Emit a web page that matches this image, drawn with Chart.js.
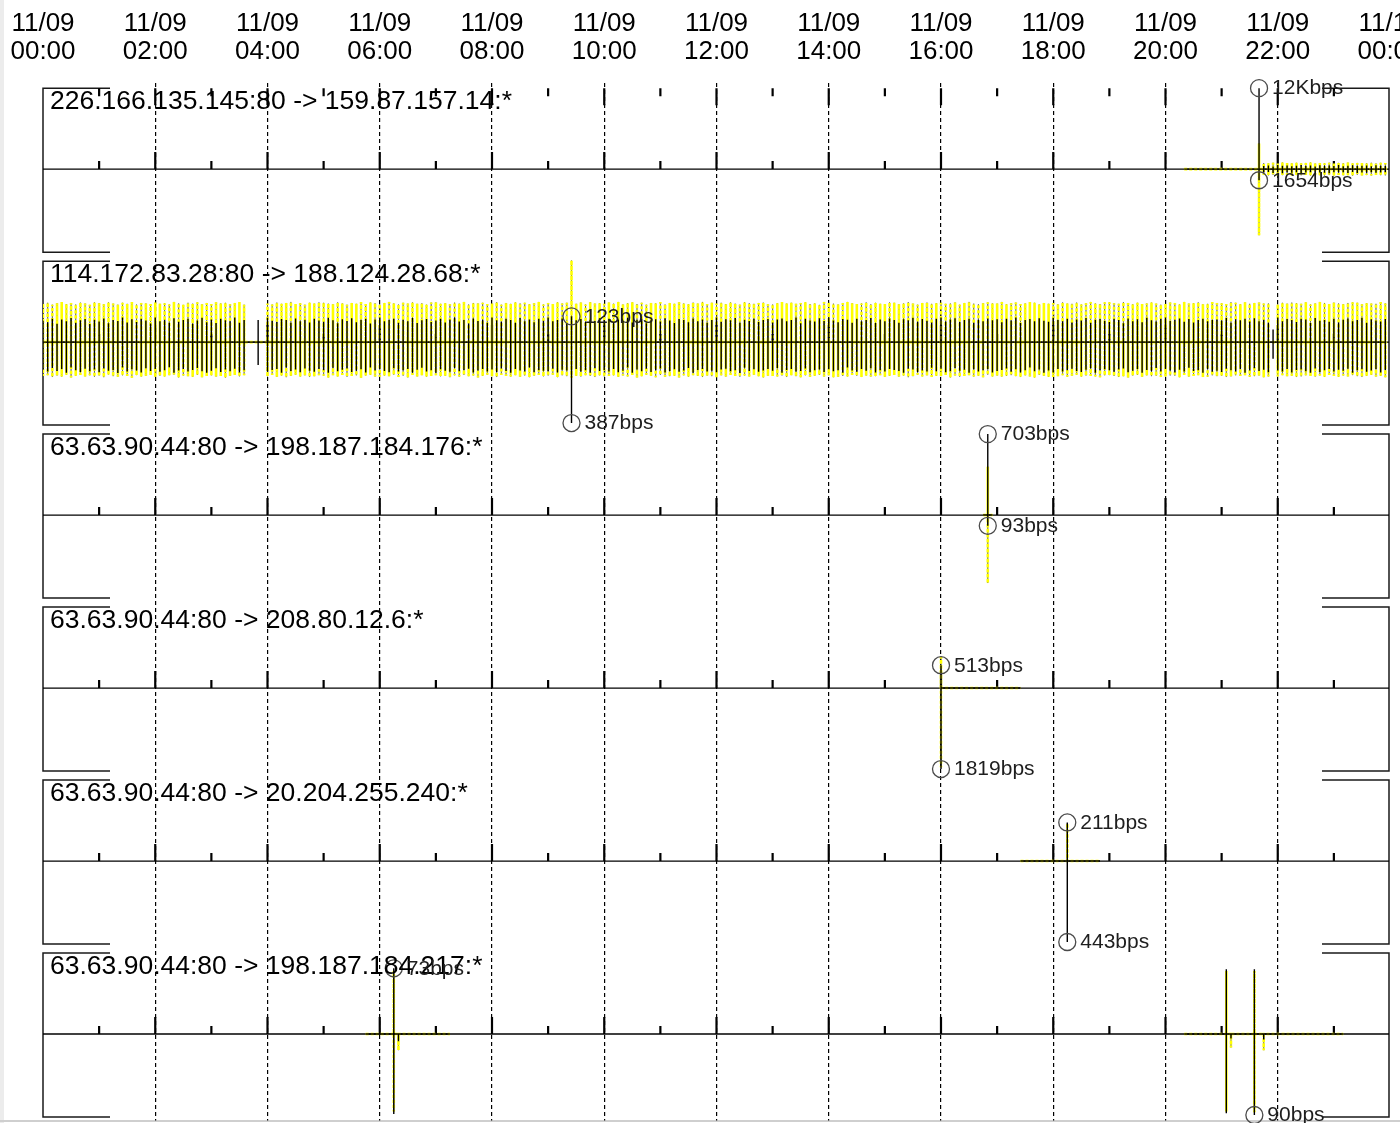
<!DOCTYPE html>
<html>
<head>
<meta charset="utf-8">
<title>Flow rates 11/09</title>
<script src="https://cdn.jsdelivr.net/npm/chart.js"></script>
<style>
  html, body { margin: 0; padding: 0; background: #fff; overflow: hidden; width: 1400px; height: 1123px; }
  #wrap { position: absolute; left: 0; top: 0; width: 1440px; height: 1123px; }
</style>
</head>
<body>
<div id="wrap"><canvas id="c" width="1440" height="1123"></canvas></div>
<script>
// ---- time axis ----
const SLOT_MIN = 5;                       // sampling interval, minutes
const tickDates = ['11/09','11/09','11/09','11/09','11/09','11/09','11/09','11/09','11/09','11/09','11/09','11/09','11/10'];
const tickTimes = ['00:00','02:00','04:00','06:00','08:00','10:00','12:00','14:00','16:00','18:00','20:00','22:00','00:00'];

// ---- flows (one panel each) ----
const flowLabels = [
  '226.166.135.145:80 -> 159.87.157.14:*',
  '114.172.83.28:80 -> 188.124.28.68:*',
  '63.63.90.44:80 -> 198.187.184.176:*',
  '63.63.90.44:80 -> 208.80.12.6:*',
  '63.63.90.44:80 -> 20.204.255.240:*',
  '63.63.90.44:80 -> 198.187.184.217:*'
];

// flow 1: 5-minute samples from 20:20 (bps; up = forward, down = reverse)
const f1Start = '20:20';
const f1Up = [0,0,0,0,0,0,0,0,0,0,0,0,0,0,0,0, 12000,
  450,520,380,600,480,550,420,500,610,470,530,390,560,480,520,450,600,430,510,570,460,490,540,420,580,500,470];
const f1Down = [0,0,0,0,0,0,0,0,0,0,0,0,0,0,0,0, 1654,
  500,430,560,470,620,480,540,450,590,510,460,570,490,530,610,450,520,480,560,440,590,500,530,470,550,510,480];
const f1BurstUp = [0,0,0,0,0,0,0,0,0,0,0,0,0,0,0,0, 3800,
  900,850,950,820,980,900,870,940,860,920,990,840,910,880,960,830,930,890,970,850,920,900,880,950,860,940,900];
const f1BurstDown = [0,0,0,0,0,0,0,0,0,0,0,0,0,0,0,0, 9800,
  880,940,860,990,900,850,960,890,930,870,950,820,910,970,880,940,860,920,900,980,850,930,890,960,870,910,940];

// flow 2: whole day, 5-minute samples from 00:00 (one row per hour)
const f2Start = '00:00';
const f2Up = [
  102,95,111,88,108,99,115,92,104,110,86,107,
  98,113,90,105,101,117,94,109,96,112,103,89,
  118,100,107,93,114,97,106,111,88,103,116,95,
  108,91,112,104,99,117,93,106,0,0,105,0,
  116,102,96,110,105,92,113,100,107,94,111,103,
  97,116,104,90,109,101,114,95,106,112,89,108,
  117,99,105,112,93,107,100,115,91,104,110,96,
  103,111,94,108,117,98,105,89,113,101,107,92,
  118,104,97,112,106,93,115,100,108,95,111,102,
  117,99,106,113,91,123,104,110,96,107,101,114,
  105,112,93,108,100,116,94,107,111,90,104,109,
  98,114,103,91,110,106,95,113,100,108,92,105,
  118,97,109,104,115,92,107,101,112,96,106,110,
  94,108,113,99,105,117,90,111,103,98,114,101,
  116,103,95,110,107,93,112,99,106,115,91,108,
  100,113,106,92,109,104,116,97,110,102,94,111,
  118,98,108,114,96,105,111,93,107,100,113,104,
  109,95,112,103,117,91,106,110,99,114,102,97,
  116,106,99,111,94,108,103,115,92,107,110,101,
  96,112,105,90,113,100,109,95,116,104,98,111,
  117,101,107,113,97,110,94,106,112,99,105,108,
  103,115,92,109,104,111,98,114,100,107,93,60,
  118,99,110,105,96,112,108,91,115,102,106,97,
  111,94,107,113,100,105,116,92,109,103,98,110
];
const f2Down = [
  132,141,124,138,129,146,121,135,143,127,139,131,
  144,126,137,133,148,122,140,130,136,145,125,138,
  129,142,134,120,147,136,128,141,133,124,139,146,
  137,125,143,131,139,127,145,134,0,0,110,0,
  140,133,128,146,122,138,131,144,126,137,142,129,
  135,147,123,139,132,126,143,137,130,145,121,136,
  128,138,144,125,141,134,129,147,132,123,140,135,
  146,130,137,142,124,139,133,127,145,136,128,141,
  131,143,126,138,147,129,136,140,122,144,134,137,
  139,127,145,132,136,387,128,141,134,146,125,138,
  133,140,129,144,137,122,146,131,139,127,143,135,
  126,145,138,130,142,136,124,147,133,129,140,137,
  144,131,127,139,135,148,123,138,130,142,136,128,
  137,124,146,133,129,141,138,126,144,135,131,143,
  130,139,135,147,122,136,142,129,137,125,145,134,
  141,128,133,138,146,127,131,143,136,140,123,139,
  127,144,139,124,137,132,147,130,141,134,128,145,
  138,133,126,142,130,145,135,121,139,131,146,136,
  145,129,140,135,127,138,143,132,125,147,134,130,
  134,142,131,126,144,137,128,146,133,139,124,141,
  129,136,145,132,140,123,138,134,147,128,142,137,
  143,127,134,141,129,146,136,125,138,132,144,80,
  136,140,128,145,133,131,139,147,126,143,135,129,
  140,132,137,127,146,134,130,142,136,128,145,133
];
const f2BurstUp = [
  184,188,179,186,191,182,187,180,189,185,178,190,
  186,181,190,184,179,188,183,191,180,187,185,182,
  189,183,186,180,192,185,178,188,184,190,181,187,
  182,190,185,188,181,187,191,179,0,0,0,0,
  185,180,189,183,187,192,182,186,179,188,184,190,
  188,184,181,190,185,179,187,183,191,182,189,186,
  181,187,192,185,180,188,184,190,183,186,179,189,
  190,183,186,181,189,184,192,180,187,185,188,182,
  184,191,179,187,183,190,185,188,181,186,192,180,
  187,182,190,185,188,390,183,189,180,191,184,186,
  183,189,184,192,180,186,190,182,188,179,187,185,
  191,180,187,183,190,185,181,189,184,192,182,188,
  185,188,182,190,184,179,191,186,183,187,189,181,
  180,186,191,184,188,183,187,190,182,185,178,192,
  189,184,180,187,192,186,182,185,190,181,188,183,
  182,190,188,181,185,191,184,179,187,189,183,186,
  188,183,185,190,179,187,192,184,181,186,190,185,
  184,192,181,186,189,182,185,191,188,180,187,183,
  187,181,190,184,183,189,180,186,192,185,182,190,
  190,186,183,191,187,181,188,182,185,189,184,179,
  183,189,187,180,192,184,186,190,181,183,191,187,
  186,182,191,188,181,190,183,187,189,184,185,0,
  181,188,184,189,186,183,190,180,185,192,187,182,
  189,185,182,187,190,188,181,186,184,183,191,185
];
const f2BurstDown = [
  162,158,167,160,165,156,169,161,157,164,159,166,
  160,168,155,163,166,159,162,170,158,165,161,157,
  167,161,164,158,156,169,160,163,166,157,168,162,
  159,165,162,170,161,157,164,158,0,0,0,0,
  164,157,166,160,168,162,156,165,159,167,163,158,
  161,169,158,164,157,166,162,159,170,160,156,165,
  166,160,163,156,167,161,169,157,164,158,165,162,
  158,164,161,168,159,165,157,163,160,169,162,156,
  163,167,157,162,165,158,166,160,168,161,157,164,
  160,156,168,159,163,170,161,165,158,162,167,159,
  165,162,159,166,160,164,157,169,163,156,161,168,
  157,166,163,161,169,159,165,158,162,167,160,163,
  168,159,165,157,162,166,160,164,156,163,169,161,
  162,164,160,167,158,163,168,159,166,161,157,165,
  159,168,166,162,164,157,161,167,160,165,163,158,
  166,161,157,165,160,168,163,156,164,159,167,162,
  163,157,169,160,166,162,158,165,161,168,156,164,
  160,165,162,158,163,167,159,164,169,157,162,166,
  167,163,158,166,161,156,165,160,162,164,168,159,
  158,162,167,163,169,160,157,166,159,163,161,167,
  164,160,161,168,157,165,162,158,167,166,159,163,
  161,167,164,159,162,158,166,163,160,168,164,0,
  165,158,163,161,167,164,159,162,165,160,166,157,
  162,166,160,164,158,163,167,161,157,165,162,168
];

// flow 3: burst around 16:50
const f3Start = '16:45';
const f3Up = [0, 703, 0];
const f3Down = [0, 93, 0];
const f3BurstUp = [0, 420, 0];
const f3BurstDown = [0, 590, 0];

// flow 4: 16:00 - 17:25
const f4Start = '16:00';
const f4Up = [513,0,0,0,0,0,0,0,0,0,0,0,0,0,0,0,0,0];
const f4Down = [1819,0,0,0,0,0,0,0,0,0,0,0,0,0,0,0,0,0];
const f4BurstUp = [700,0,0,0,0,0,0,0,0,0,0,0,0,0,0,0,0,0];
const f4BurstDown = [1780,0,0,0,0,0,0,0,0,0,0,0,0,0,0,0,0,0];

// flow 5: 17:25 - 18:50
const f5Start = '17:25';
const f5Up = [0,0,0,0,0,0,0,0,0,0,211,0,0,0,0,0,0,0];
const f5Down = [0,0,0,0,0,0,0,0,0,0,443,0,0,0,0,0,0,0];
const f5BurstUp = [0,0,0,0,0,0,0,0,0,0,205,0,0,0,0,0,0,0];
const f5BurstDown = [0,0,0,0,0,0,0,0,0,0,0,0,0,0,0,0,0,0];

// flow 6: two sessions, 05:45 - 07:15 and 20:20 - 23:10
const f6aStart = '05:45';
const f6aUp = [0,0,0,0,0,0,73,0,0,0,0,0,0,0,0,0,0,0,0];
const f6aDown = [0,0,0,0,0,0,89,8,0,0,0,0,0,0,0,0,0,0,0];
const f6aBurstUp = [0,0,0,0,0,0,70,0,0,0,0,0,0,0,0,0,0,0,0];
const f6aBurstDown = [0,0,0,0,0,0,86,18,0,0,0,0,0,0,0,0,0,0,0];
const f6bStart = '20:20';
const f6bUp = [0,0,0,0,0,0,0,0,0,72,0,0,0,0,0,72,0,0,0,0,0,0,0,0,0,0,0,0,0,0,0,0,0,0,0];
const f6bDown = [0,0,0,0,0,0,0,0,0,88,5,0,0,0,0,90,0,6,0,0,0,0,0,0,0,0,0,0,0,0,0,0,0,0,0];
const f6bBurstUp = [0,0,0,0,0,0,0,0,0,70,0,0,0,0,0,70,0,0,0,0,0,0,0,0,0,0,0,0,0,0,0,0,0,0,0];
const f6bBurstDown = [0,0,0,0,0,0,0,0,0,86,15,0,0,0,0,87,0,18,0,0,0,0,0,0,0,0,0,0,0,0,0,0,0,0,0];

// ---- assemble ----
const flows = [
  [{start: f1Start, up: f1Up, down: f1Down, burstUp: f1BurstUp, burstDown: f1BurstDown}],
  [{start: f2Start, up: f2Up, down: f2Down, burstUp: f2BurstUp, burstDown: f2BurstDown}],
  [{start: f3Start, up: f3Up, down: f3Down, burstUp: f3BurstUp, burstDown: f3BurstDown}],
  [{start: f4Start, up: f4Up, down: f4Down, burstUp: f4BurstUp, burstDown: f4BurstDown}],
  [{start: f5Start, up: f5Up, down: f5Down, burstUp: f5BurstUp, burstDown: f5BurstDown}],
  [{start: f6aStart, up: f6aUp, down: f6aDown, burstUp: f6aBurstUp, burstDown: f6aBurstDown},
   {start: f6bStart, up: f6bUp, down: f6bDown, burstUp: f6bBurstUp, burstDown: f6bBurstDown}]
];

const SLOT_H = SLOT_MIN / 60;
const FONT = "'Liberation Sans', Arial, Helvetica, sans-serif";
const toHours = s => { const [h, m] = s.split(':').map(Number); return h + m / 60; };
const fmtRate = v => v >= 10000 ? Math.round(v / 1000) + 'Kbps' : Math.round(v) + 'bps';

// each sample becomes a vertical spike: 0 -> +up -> 0 -> -down -> 0
function spikePath(runs, upKey, downKey) {
  const pts = [];
  runs.forEach((r, k) => {
    const t0 = toHours(r.start);
    if (k > 0) pts.push({x: t0 - 0.01, y: null});
    r[upKey].forEach((u, i) => {
      const x = t0 + i * SLOT_H;
      const d = r[downKey][i];
      pts.push({x, y: 0});
      if (u) pts.push({x, y: u}, {x, y: 0});
      if (d) pts.push({x, y: -d}, {x, y: 0});
    });
  });
  return pts;
}

// strongest sample in each direction
function peakPoints(runs) {
  let up = {v: -1, x: 0}, dn = {v: -1, x: 0};
  runs.forEach(r => {
    const t0 = toHours(r.start);
    r.up.forEach((v, i) => { if (v > up.v) up = {v, x: t0 + i * SLOT_H}; });
    r.down.forEach((v, i) => { if (v > dn.v) dn = {v, x: t0 + i * SLOT_H}; });
  });
  return [{x: up.x, y: up.v, text: fmtRate(up.v)}, {x: dn.x, y: -dn.v, text: fmtRate(dn.v)}];
}

const scales = {
  x: {
    type: 'linear', position: 'top', min: 0, max: 24,
    ticks: {
      stepSize: 2, autoSkip: false, maxRotation: 0, minRotation: 0, padding: 0,
      color: '#000', font: {family: FONT, size: 26, lineHeight: 1.06},
      callback: (v, i) => [tickDates[i], tickTimes[i]]
    },
    grid: {
      drawTicks: true, tickLength: 17, tickColor: 'rgba(0,0,0,0)', lineWidth: 1.2,
      color: c => (c.tick && (c.tick.value === 0 || c.tick.value === 24)) ? 'rgba(0,0,0,0)' : '#000'
    },
    border: {display: false, dash: [4, 3]}
  }
};
// panels stack top-down: the last axis registered is laid out first (top)
for (let i = flows.length - 1; i >= 0; i--) {
  const runs = flows[i];
  const peak = Math.max(...runs.flatMap(r => r.up.concat(r.down)));
  const lim = peak * 1.068;
  scales['y' + i] = {type: 'linear', position: 'left', stack: 'flows', stackWeight: 1,
                     min: -lim, max: lim, display: false};
}
const datasets = [];
flows.forEach((runs, i) => {
  const yid = 'y' + i;
  const burst = spikePath(runs, 'burstUp', 'burstDown');
  // thin dark trace under the dashed burst line (shows in the dash gaps)
  datasets.push({
    label: flowLabels[i] + ' burst trace', yAxisID: yid, order: 3,
    data: burst, borderColor: 'rgba(70,70,40,0.55)', borderWidth: 1,
    pointRadius: 0, tension: 0
  });
  datasets.push({
    label: flowLabels[i] + ' burst', yAxisID: yid, order: 2,
    data: burst, borderColor: 'rgb(255,255,0)', borderWidth: 2.6, borderDash: [3, 2],
    pointRadius: 0, tension: 0
  });
  datasets.push({
    label: flowLabels[i], yAxisID: yid, order: 1,
    data: spikePath(runs, 'up', 'down'),
    borderColor: '#000', borderWidth: 1.4,
    pointRadius: 0, tension: 0
  });
  datasets.push({
    label: flowLabels[i] + ' peak', yAxisID: yid, order: 0, isPeak: true,
    data: peakPoints(runs), showLine: false, clip: false,
    pointRadius: 8.5, pointHoverRadius: 8.5, pointStyle: 'circle',
    pointBorderColor: '#4a4a4a', pointBackgroundColor: 'rgba(0,0,0,0)', pointBorderWidth: 1.3
  });
});

const panelDecor = {
  id: 'panelDecor',
  beforeDraw(chart) {
    const {ctx} = chart;
    ctx.save();
    ctx.fillStyle = '#ececec';
    ctx.fillRect(0, 0, 4, chart.height);
    ctx.fillStyle = '#cfcfcf';
    ctx.fillRect(0, 1120, chart.width, 2);
    ctx.restore();
  },
  beforeDatasetsDraw(chart) {
    const {ctx, chartArea: a} = chart;
    const xs = chart.scales.x;
    ctx.save();
    flows.forEach((_, i) => {
      const s = chart.scales['y' + i];
      const c = s.getPixelForValue(0);
      const h = (s.bottom - s.top) / 2;
      const top = c - h * 0.936, bot = c + h * 0.96;
      const rx = a.right - 1;
      // panel brackets
      ctx.strokeStyle = '#1a1a1a';
      ctx.lineWidth = 1.5;
      ctx.beginPath();
      ctx.moveTo(a.left + 67, top); ctx.lineTo(a.left, top); ctx.lineTo(a.left, bot); ctx.lineTo(a.left + 67, bot);
      ctx.moveTo(rx - 67, top); ctx.lineTo(rx, top); ctx.lineTo(rx, bot); ctx.lineTo(rx - 67, bot);
      ctx.stroke();
      // zero line
      ctx.strokeStyle = '#000';
      ctx.lineWidth = 1.3;
      ctx.beginPath(); ctx.moveTo(a.left, c); ctx.lineTo(rx, c); ctx.stroke();
      // hour ticks
      ctx.lineWidth = 2.2;
      ctx.beginPath();
      for (let hr = 1; hr < 24; hr++) {
        const x = xs.getPixelForValue(hr);
        const len = hr % 2 ? 8 : 17;
        ctx.moveTo(x, c); ctx.lineTo(x, c - len);
        if (i === 0) { ctx.moveTo(x, top); ctx.lineTo(x, top + len); }
      }
      ctx.stroke();
    });
    ctx.restore();
  },
  afterDatasetsDraw(chart) {
    const {ctx, chartArea: a} = chart;
    ctx.save();
    ctx.textBaseline = 'middle';
    ctx.textAlign = 'left';
    // flow titles
    flows.forEach((_, i) => {
      const s = chart.scales['y' + i];
      const c = s.getPixelForValue(0);
      const h = (s.bottom - s.top) / 2;
      const top = c - h * 0.936;
      ctx.fillStyle = '#000';
      ctx.font = '25px ' + FONT;
      ctx.save();
      ctx.translate(a.left + 7, top + 14);
      ctx.scale(1.06, 1);
      ctx.fillText(flowLabels[i], 0, 0);
      ctx.restore();
    });
    // peak labels
    ctx.font = '21px ' + FONT;
    ctx.fillStyle = '#1e1e1e';
    chart.data.datasets.forEach((ds, di) => {
      if (!ds.isPeak) return;
      const meta = chart.getDatasetMeta(di);
      meta.data.forEach((pt, j) => {
        ctx.fillText(ds.data[j].text, pt.x + 13, pt.y + 0.5);
      });
    });
    ctx.restore();
  }
};

new Chart(document.getElementById('c'), {
  type: 'line',
  data: {datasets},
  options: {
    responsive: false,
    animation: false,
    events: [],
    layout: {autoPadding: false, padding: {top: 10.5, left: 43, right: 50, bottom: 2.5}},
    plugins: {legend: {display: false}, tooltip: {enabled: false}},
    scales
  },
  plugins: [panelDecor]
});
</script>
</body>
</html>
